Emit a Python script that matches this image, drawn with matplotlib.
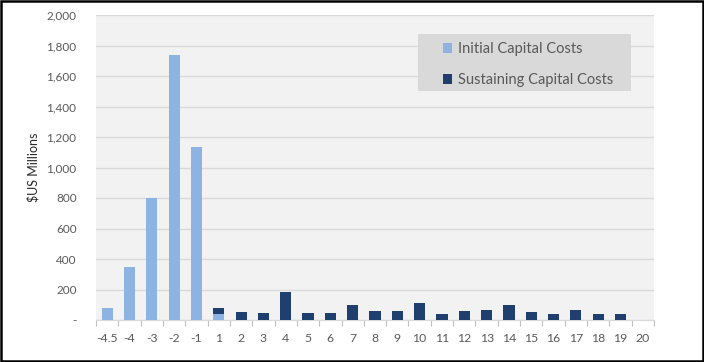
import numpy as np
import matplotlib
matplotlib.use('Agg')
import matplotlib.pyplot as plt
from matplotlib.patches import Rectangle
from matplotlib.ticker import FuncFormatter

years = ['-4.5', '-4', '-3', '-2', '-1', '1', '2', '3', '4', '5', '6', '7', '8',
         '9', '10', '11', '12', '13', '14', '15', '16', '17', '18', '19', '20']
initial = [80, 350, 797, 1735, 1133, 40, 0, 0, 0, 0, 0, 0, 0,
           0, 0, 0, 0, 0, 0, 0, 0, 0, 0, 0, 0]
sustaining = [0, 0, 0, 0, 0, 36, 52, 48, 184, 48, 48, 100, 61,
              57, 114, 39, 57, 66, 98, 52, 39, 68, 39, 39, 0]

light = '#8db3e2'
dark = '#1f3f6e'
grey_txt = '#595959'

plt.rcParams["font.family"] = ['Lato', 'DejaVu Sans']
plt.rcParams["font.size"] = 8.5

fig = plt.figure(figsize=(7.04, 3.62), dpi=100)
ax = fig.add_axes([96/704, 1-320/362, (654-96)/704, (320-15)/362])
ax.set_facecolor('#f2f2f2')

x = np.arange(len(years))
b1 = ax.bar(x, initial, width=0.5, color=light, zorder=3)
b2 = ax.bar(x, sustaining, width=0.5, bottom=initial, color=dark, zorder=3)

ax.set_xlim(-0.5, len(years) - 0.5)
ax.set_ylim(0, 2000)
ax.set_yticks(np.arange(0, 2001, 200))
ax.yaxis.set_major_formatter(FuncFormatter(lambda v, p: '-' if v == 0 else f'{int(v):,}'))
ax.grid(axis='y', color='#d9d9d9', linewidth=1, zorder=0)

ax.set_xticks(x)
ax.set_xticklabels(years)
ax.set_xticks(np.arange(-0.5, len(years), 1), minor=True)
ax.tick_params(axis='x', which='major', length=0, pad=9, colors=grey_txt, labelsize=8.8)
ax.tick_params(axis='x', which='minor', length=4, color='#bfbfbf', width=0.8)
ax.tick_params(axis='y', length=0, pad=14, colors=grey_txt, labelsize=8.5)

for s in ['top', 'right', 'left']:
    ax.spines[s].set_visible(False)
ax.spines['bottom'].set_color('#d9d9d9')

ax.set_ylabel('$US Millions', fontsize=9, color='#262626', labelpad=5)

# legend box drawn by hand, legend itself frameless
ax.add_patch(Rectangle((418/704, 1-91/362), (631-418)/704, (91-34)/362,
                       transform=fig.transFigure, facecolor='#d9d9d9',
                       edgecolor='none', zorder=4, clip_on=False))
leg = ax.legend((b1, b2), ('Initial Capital Costs', 'Sustaining Capital Costs'),
                loc='upper left', bbox_to_anchor=(443/704, 1-42/362),
                bbox_transform=fig.transFigure, fontsize=10.5, frameon=False,
                handlelength=0.65, handleheight=0.65, handletextpad=0.4,
                labelspacing=1.15, borderpad=0, borderaxespad=0)
leg.set_zorder(5)
for t in leg.get_texts():
    t.set_color(grey_txt)

fig.patches.append(Rectangle((0.002, 0.003), 0.996, 0.994, transform=fig.transFigure,
                             fill=False, edgecolor='black', linewidth=1.8))

fig.savefig('out.png', dpi=100)
